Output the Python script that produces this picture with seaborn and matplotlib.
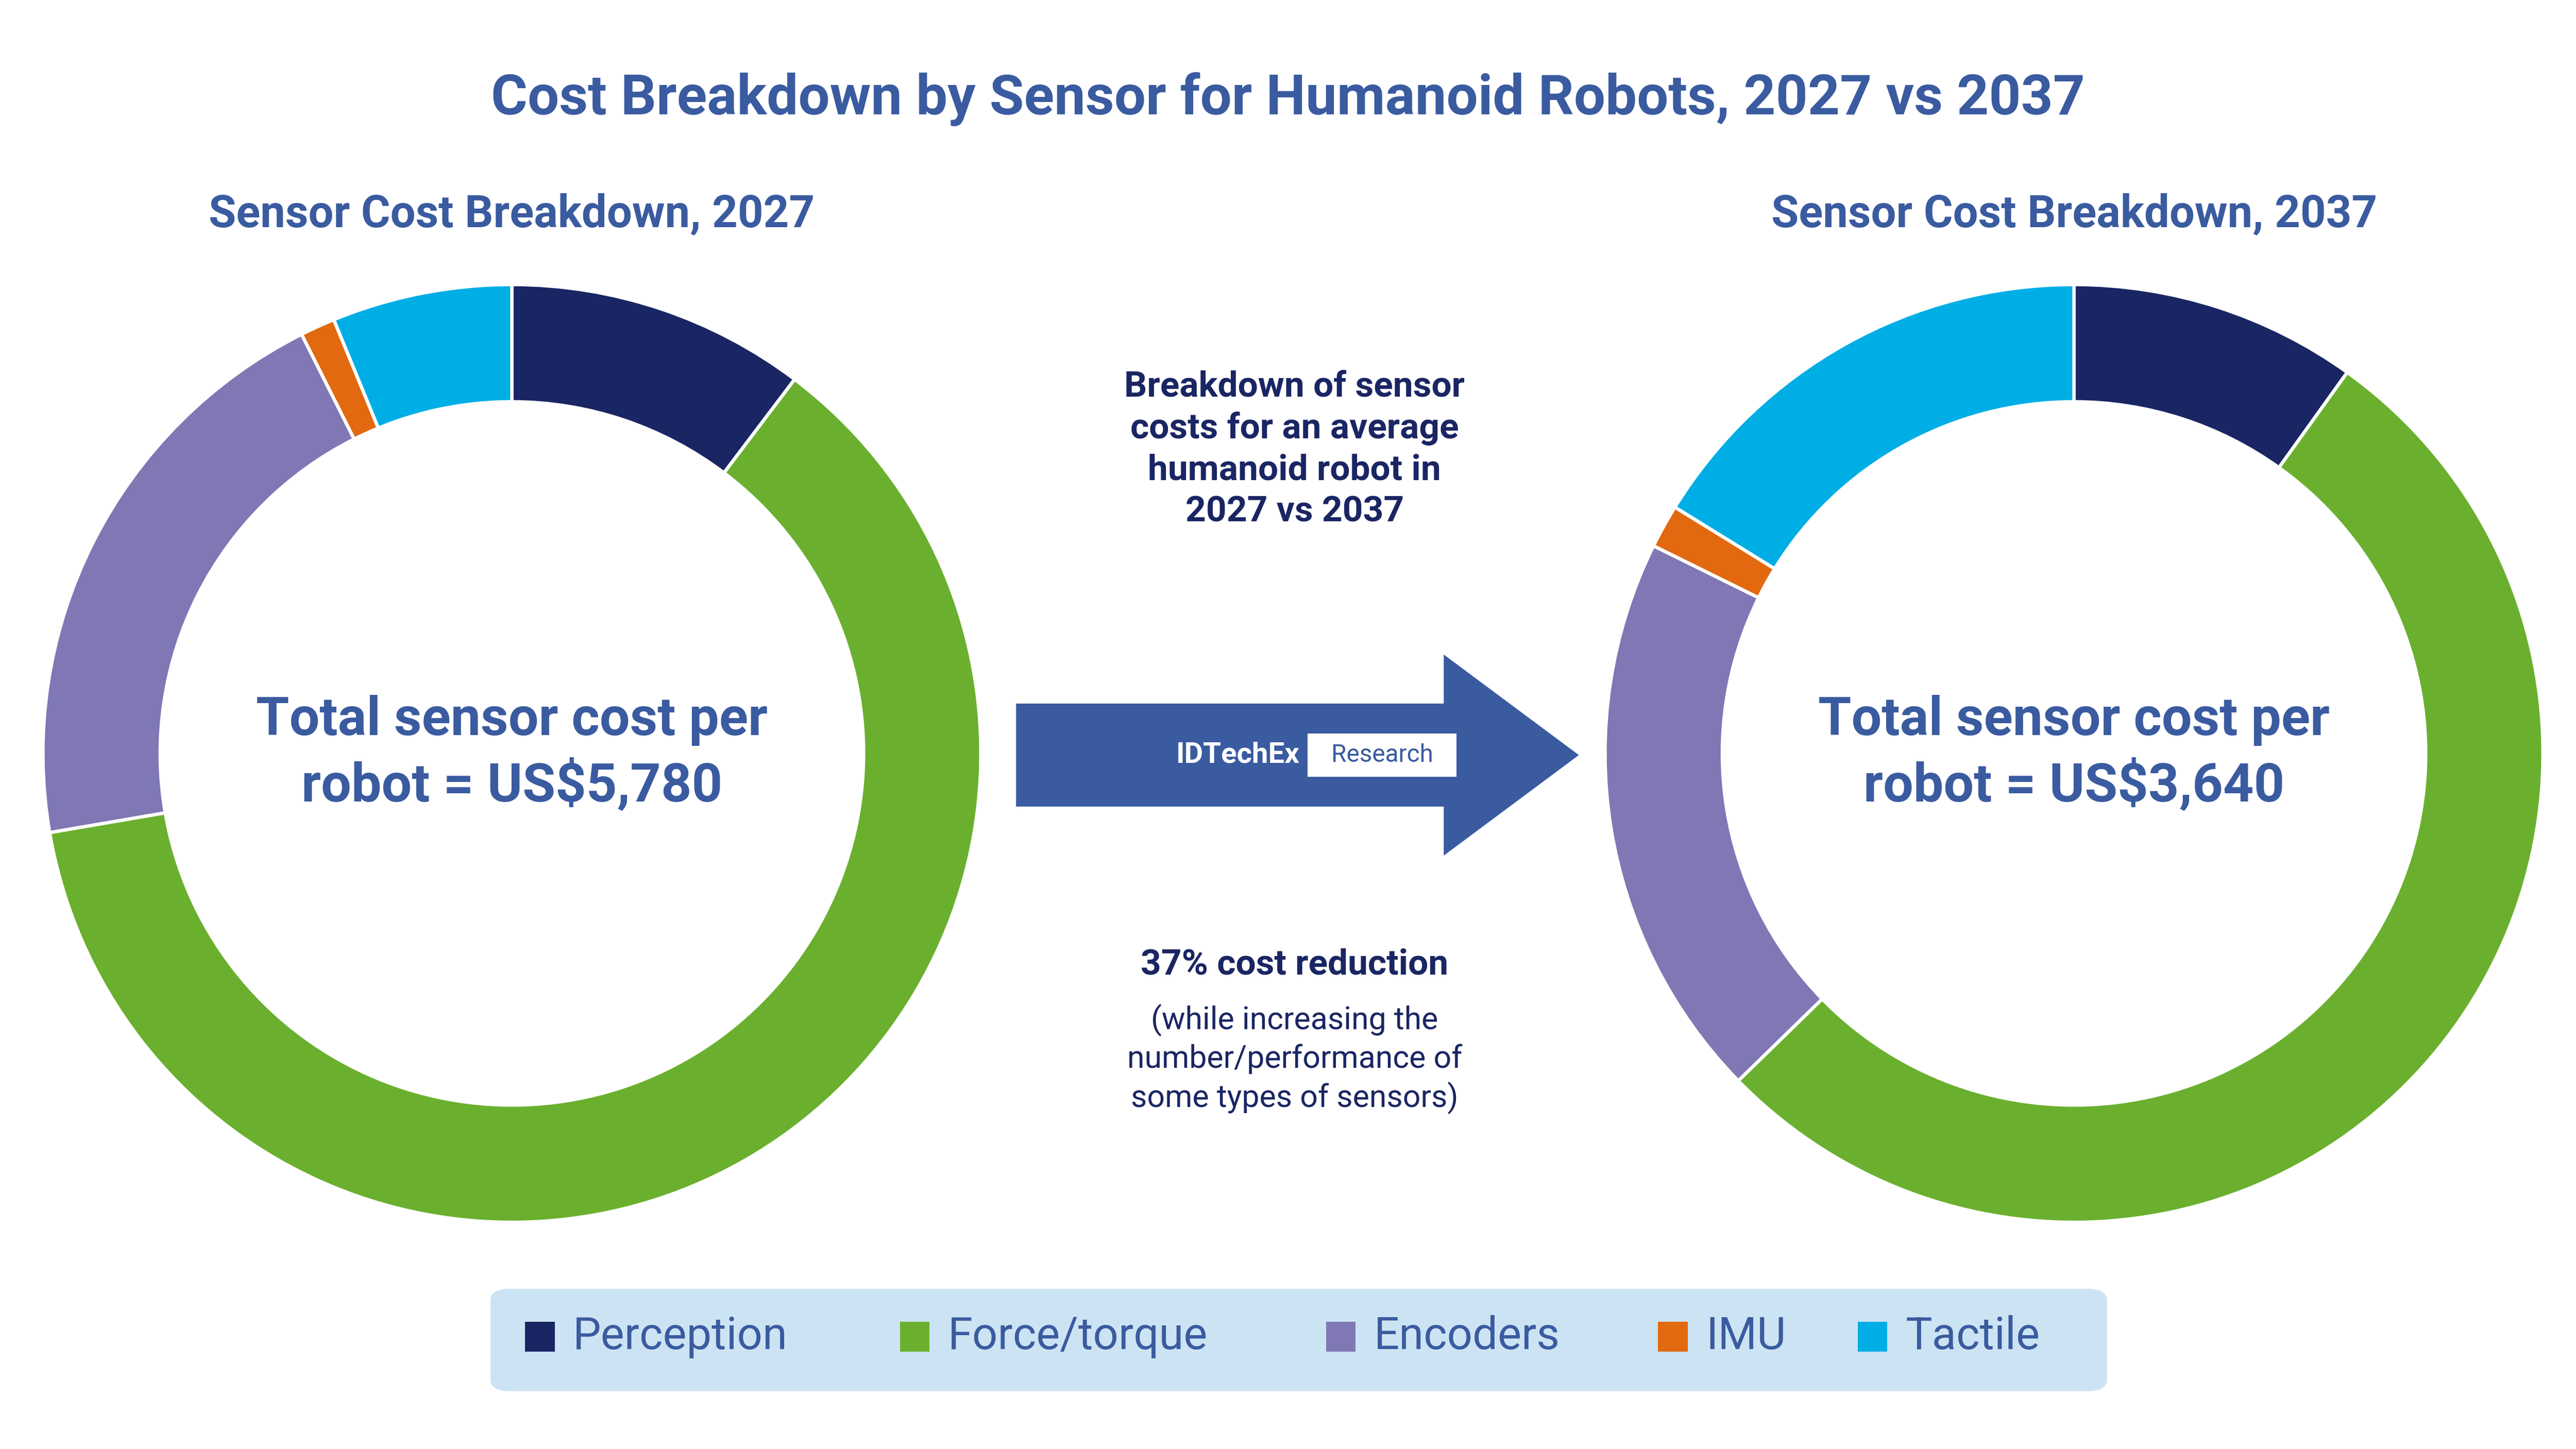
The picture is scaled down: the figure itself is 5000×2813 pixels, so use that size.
import matplotlib
matplotlib.use("Agg")
import matplotlib.pyplot as plt
from matplotlib.patches import FancyBboxPatch, FancyArrow, Rectangle
import seaborn as sns

sns.set_theme(style="white")
plt.rcParams['font.family'] = ['Roboto', 'DejaVu Sans']

# data (% of sensor cost)
sensors = ["Perception", "Force/torque", "Encoders", "IMU", "Tactile"]
share_2027 = [10.3, 62.0, 20.3, 1.2, 6.2]
share_2037 = [9.9, 52.8, 19.6, 1.5, 16.2]
totals = ["US$5,780", "US$3,640"]
years = ["2027", "2037"]
colors = sns.color_palette(["#1a2563", "#6ab02e", "#7f78b5", "#e2690f", "#00aee6"])

blue = "#3a5ba0"
navy = "#1a2563"
W, H = 1560, 877

fig = plt.figure(figsize=(16, 9.0016), dpi=312.5)

def fx(x):
    return x / W

def fy(y):
    return 1 - y / H

fig.text(0.5, fy(60), "Cost Breakdown by Sensor for Humanoid Robots, 2027 vs 2037",
         ha="center", va="center", fontsize=25, fontweight="bold", color=blue)

for cx, vals, total, yr, tx in [(310, share_2027, totals[0], years[0], 310),
                                (1256, share_2037, totals[1], years[1], 1256)]:
    r = 284
    ax = fig.add_axes([fx(cx - r), fy(456 + r), fx(2 * r), 2 * r / H])
    ax.pie(vals, colors=colors, startangle=90, counterclock=False, radius=1,
           wedgeprops=dict(width=0.25, edgecolor="white", linewidth=1.5))
    ax.set_aspect("equal")
    ax.set_xlim(-1, 1)
    ax.set_ylim(-1, 1)
    ax.axis("off")
    ax.text(0, 0, f"Total sensor cost per\nrobot = {total}", ha="center", va="center",
            fontsize=24, fontweight="bold", color=blue, linespacing=1.3)
    fig.text(fx(tx), fy(130), f"Sensor Cost Breakdown, {yr}", ha="center", va="center",
             fontsize=20, fontweight="bold", color=blue)

fig.text(fx(784), fy(272), "Breakdown of sensor\ncosts for an average\nhumanoid robot in\n2027 vs 2037",
         ha="center", va="center", fontsize=16, fontweight="bold", color=navy, linespacing=1.3)
fig.text(fx(784), fy(584), "37% cost reduction", ha="center", va="center",
         fontsize=16, fontweight="bold", color=navy)
fig.text(fx(784), fy(641), "(while increasing the\nnumber/performance of\nsome types of sensors)",
         ha="center", va="center", fontsize=14, color=navy, linespacing=1.3)

# arrow
fig.patches.append(FancyArrow(fx(616), fy(457), fx(955 - 616), 0, width=61 / H,
                              head_width=119 / H, head_length=fx(80),
                              length_includes_head=True, color=blue,
                              transform=fig.transFigure))
fig.text(fx(787), fy(457), "IDTechEx", ha="right", va="center", fontsize=13,
         color="white", fontweight="bold")
fig.patches.append(Rectangle((fx(792), fy(470)), fx(90), 26 / H, facecolor="white",
                             edgecolor="none", transform=fig.transFigure))
fig.text(fx(837), fy(457), "Research", ha="center", va="center", fontsize=11, color=blue)

# legend box
fig.patches.append(FancyBboxPatch((fx(297), fy(842)), fx(979), 62 / H,
                                  boxstyle="round,pad=0,rounding_size=0.008",
                                  facecolor="#cce3f3", edgecolor="none",
                                  transform=fig.transFigure))
lx = [318, 545, 803, 1004, 1125]
for x, name, c in zip(lx, sensors, colors):
    fig.patches.append(Rectangle((fx(x), fy(818)), fx(18), 18 / H, facecolor=c,
                                 edgecolor="none", transform=fig.transFigure))
    fig.text(fx(x + 29), fy(809), name, ha="left", va="center", fontsize=20, color=blue)

fig.savefig("out.png", dpi=312.5, facecolor="white")
